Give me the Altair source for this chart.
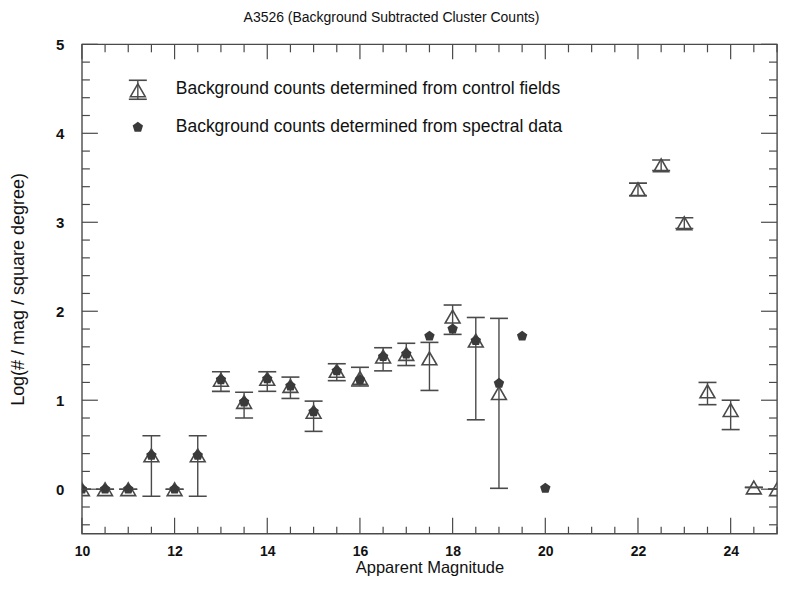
import altair as alt
import pandas as pd

# ---- data ----
mag_ctrl = [10, 10.5, 11, 11.5, 12, 12.5, 13, 13.5, 14, 14.5, 15, 15.5, 16, 16.5, 17,
            17.5, 18, 18.5, 19, 22, 22.5, 23, 23.5, 24, 24.5, 25]
val_ctrl = [0, 0, 0, 0.38, 0, 0.38, 1.23, 0.98, 1.24, 1.16, 0.87, 1.33, 1.25, 1.49, 1.52,
            1.47, 1.94, 1.67, 1.08, 3.37, 3.64, 2.99, 1.10, 0.89, 0.02, 0.0]
hi_ctrl = [0, 0, 0, 0.60, 0, 0.60, 1.32, 1.09, 1.32, 1.26, 0.99, 1.41, 1.37, 1.59, 1.64,
           1.65, 2.07, 1.93, 1.92, 3.44, 3.70, 3.05, 1.20, 1.00, 0.02, 0.0]
lo_ctrl = [0, 0, 0, -0.08, 0, -0.08, 1.10, 0.80, 1.10, 1.02, 0.65, 1.22, 1.16, 1.33, 1.39,
           1.11, 1.74, 0.78, 0.01, 3.30, 3.58, 2.93, 0.95, 0.67, 0.02, 0.0]

mag_spec = [10, 10.5, 11, 11.5, 12, 12.5, 13, 13.5, 14, 14.5, 15, 15.5, 16, 16.5, 17,
            17.5, 18, 18.5, 19, 19.5, 20]
val_spec = [0, 0, 0, 0.38, 0, 0.38, 1.23, 0.98, 1.24, 1.16, 0.87, 1.33, 1.23, 1.49, 1.52,
            1.72, 1.80, 1.67, 1.19, 1.72, 0.01]

x_major = [10, 12, 14, 16, 18, 20, 22, 24]
y_major = [0, 1, 2, 3, 4, 5]
x_minor = [v / 2 for v in range(20, 51) if (v / 2) % 2 != 0]
y_minor = [v / 5 for v in range(-2, 25) if v % 5 != 0]

legend_labels = ["Background counts determined from control fields",
                 "Background counts determined from spectral data"]
title_text = "A3526 (Background Subtracted Cluster Counts)"
x_title = "Apparent Magnitude"
y_title = "Log(# / mag / square degree)"

# ---- layout / style ----
W, H = 696, 490
FONT = "Liberation Sans"
LINE = "#4a4a4a"
MARK = "#3a3a3a"
PENT = "M0,-1L0.951,-0.309L0.588,0.809L-0.588,0.809L-0.951,-0.309Z"

ctrl = pd.DataFrame({"mag": mag_ctrl, "val": val_ctrl, "lo": lo_ctrl, "hi": hi_ctrl})
spec = pd.DataFrame({"mag": mag_spec, "val": val_spec})
one = pd.DataFrame({"a": [0]})

xs = alt.Scale(domain=[10, 25], nice=False, zero=False)
ys = alt.Scale(domain=[-0.5, 5], nice=False, zero=False)
x_axis = alt.Axis(values=x_major, ticks=False, domain=False, grid=False, labelPadding=11,
                  titlePadding=1, format="d", labelFlush=False, labelFontSize=14,
                  titleFontSize=16.5)
y_axis = alt.Axis(values=y_major, ticks=False, domain=False, grid=False, labelPadding=18,
                  titlePadding=28, format="d", labelFlush=False, labelFontSize=15,
                  titleFontSize=18)


def X(f):
    return alt.X(f, type="quantitative", scale=xs, axis=x_axis, title=x_title)


def Y(f):
    return alt.Y(f, type="quantitative", scale=ys, axis=y_axis, title=y_title)


tri = alt.Chart(ctrl).mark_point(shape="triangle-up", size=220, filled=False, color=LINE,
                                 strokeWidth=1.6, opacity=1, clip=True).encode(
    x=X("mag"), y=Y("val"))
bars = alt.Chart(ctrl).mark_rule(color=LINE, strokeWidth=1.4, clip=True).encode(
    x=X("mag"), y=Y("lo"), y2="hi")
cap_lo = alt.Chart(ctrl).mark_rule(color=LINE, strokeWidth=1.6, xOffset=-9, x2Offset=9,
                                   clip=True).encode(x=X("mag"), x2="mag", y=Y("lo"))
cap_hi = alt.Chart(ctrl).mark_rule(color=LINE, strokeWidth=1.6, xOffset=-9, x2Offset=9,
                                   clip=True).encode(x=X("mag"), x2="mag", y=Y("hi"))
pent = alt.Chart(spec).mark_point(shape=PENT, size=120, filled=True, color=MARK, opacity=1,
                                  clip=True).encode(x=X("mag"), y=Y("val"))


def xticks(vals, length, top):
    df = pd.DataFrame({"v": vals})
    y0, y1 = (0, length) if top else (H, H - length)
    return alt.Chart(df).mark_rule(color=LINE, strokeWidth=1.2).encode(
        x=X("v"), y=alt.value(y0), y2=alt.value(y1))


def yticks(vals, length, right):
    df = pd.DataFrame({"v": vals})
    x0, x1 = (W, W - length) if right else (0, length)
    return alt.Chart(df).mark_rule(color=LINE, strokeWidth=1.2).encode(
        y=Y("v"), x=alt.value(x0), x2=alt.value(x1))


ticks = [xticks(x_major, 16, False), xticks(x_minor, 7, False),
         xticks(x_major, 15, True), xticks(x_minor, 8, True),
         yticks(y_major, 16, False), yticks(y_minor, 8, False),
         yticks(y_major, 16, True), yticks(y_minor, 8, True)]

# ---- in-plot legend ----
LX, LY1, LY2, TX = 56, 45, 83, 94
leg_bar = alt.Chart(one).mark_rule(color=LINE, strokeWidth=1.4).encode(
    x=alt.value(LX), y=alt.value(LY1 - 9), y2=alt.value(LY1 + 10))
leg_cap1 = alt.Chart(one).mark_rule(color=LINE, strokeWidth=1.6).encode(
    x=alt.value(LX - 9), x2=alt.value(LX + 9), y=alt.value(LY1 - 9))
leg_cap2 = alt.Chart(one).mark_rule(color=LINE, strokeWidth=1.6).encode(
    x=alt.value(LX - 9), x2=alt.value(LX + 9), y=alt.value(LY1 + 10))
leg_tri = alt.Chart(one).mark_point(shape="triangle-up", size=220, filled=False, color=LINE,
                                    strokeWidth=1.6, opacity=1).encode(
    x=alt.value(LX), y=alt.value(LY1 + 1))
leg_pent = alt.Chart(one).mark_point(shape=PENT, size=120, filled=True, color=MARK,
                                     opacity=1).encode(x=alt.value(LX), y=alt.value(LY2))
leg_t1 = alt.Chart(one).mark_text(align="left", baseline="middle", font=FONT, fontSize=17.5,
                                  color="#111").encode(
    x=alt.value(TX), y=alt.value(LY1), text=alt.value(legend_labels[0]))
leg_t2 = alt.Chart(one).mark_text(align="left", baseline="middle", font=FONT, fontSize=17.5,
                                  color="#111").encode(
    x=alt.value(TX), y=alt.value(LY2), text=alt.value(legend_labels[1]))

chart = alt.layer(
    tri, bars, cap_lo, cap_hi, pent, *ticks,
    leg_bar, leg_cap1, leg_cap2, leg_tri, leg_pent, leg_t1, leg_t2
).properties(
    width=W, height=H, background="white",
    padding={"left": 1, "top": 3, "right": 0, "bottom": 0},
    title=alt.TitleParams(title_text, font=FONT, fontSize=14, fontWeight="normal",
                          color="#111", anchor="middle", offset=12, dx=-38),
).configure_view(
    stroke=LINE, strokeWidth=1.4
).configure_axis(
    labelFont=FONT, labelFontWeight="bold", labelColor="#111",
    titleFont=FONT, titleFontWeight="normal", titleColor="#111",
)

chart.save("out.html", embed_options={"renderer": "svg", "actions": False})
